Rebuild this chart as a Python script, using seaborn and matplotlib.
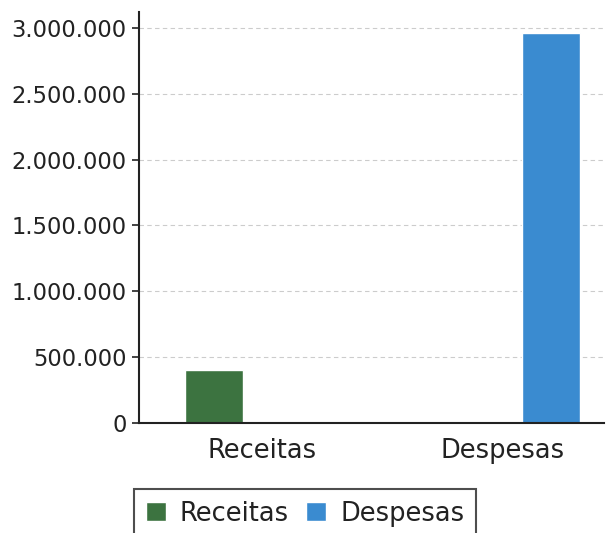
import matplotlib
matplotlib.use("Agg")
import matplotlib.pyplot as plt
import matplotlib.ticker as mticker
import seaborn as sns
import pandas as pd

categories = ["Receitas", "Despesas"]
values = [400000, 2960000]
colors = ["#3c7340", "#3a8bd0"]
yticks = [0, 500000, 1000000, 1500000, 2000000, 2500000, 3000000]

df = pd.DataFrame({"cat": categories, "val": values, "serie": categories})

sns.set_theme(style="white")
plt.rcParams["font.family"] = ["DejaVu Sans"]

fig = plt.figure(figsize=(6.12, 5.33), dpi=100)
ax = fig.add_axes([139/612, 1-423/533, (604-139)/612, (423-12)/533])

sns.barplot(data=df, x="cat", y="val", hue="serie", order=categories,
            hue_order=categories, palette=colors, dodge=True, gap=0.4,
            saturation=1, ax=ax, errorbar=None, legend=True)

ax.set_xlim(-0.51, 1.42)
ax.set_ylim(0, 3.12e6)
ax.set_yticks(yticks)
ax.yaxis.set_major_formatter(mticker.FuncFormatter(lambda v, p: f"{int(v):,}".replace(",", ".")))
ax.set_xlabel("")
ax.set_ylabel("")
ax.tick_params(axis="y", labelsize=16.3, length=5, width=1.2, color="#222222", left=True, pad=4, colors="#222222")
ax.tick_params(axis="x", labelsize=18.5, length=0, pad=11, colors="#222222")
ax.grid(axis="y", linestyle=(0, (4, 3)), color="#cccccc", linewidth=0.8)
ax.set_axisbelow(True)
for s in ["top", "right"]:
    ax.spines[s].set_visible(False)
for s in ["left", "bottom"]:
    ax.spines[s].set_color("#222222")
    ax.spines[s].set_linewidth(1.5)

sns.move_legend(ax, "upper center", bbox_to_anchor=((305-139)/465, (423-489)/411),
                ncol=2, frameon=True, title=None, fontsize=18.5,
                handlelength=0.78, handleheight=0.78, handletextpad=0.55,
                columnspacing=0.66, borderpad=0.45, borderaxespad=0)
leg = ax.get_legend()
leg.get_frame().set_edgecolor("#222222")
leg.get_frame().set_linewidth(1.5)
leg.get_frame().set_boxstyle("square", pad=0)
for t in leg.get_texts():
    t.set_color("#222222")

fig.savefig("out.png", dpi=100)
